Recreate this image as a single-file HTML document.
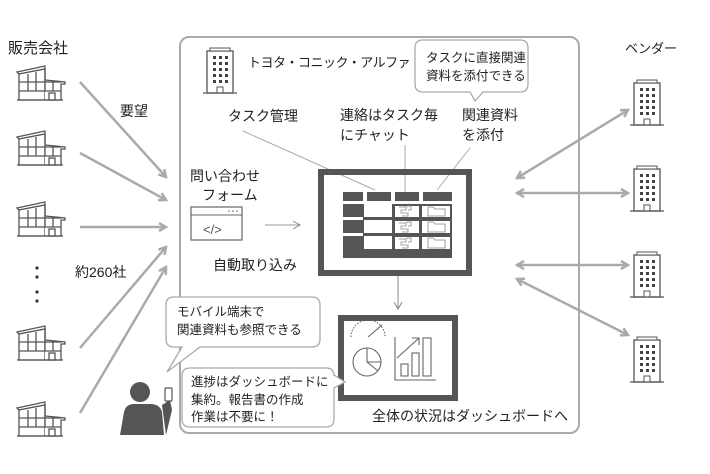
<!DOCTYPE html>
<html><head><meta charset="utf-8"><style>
body{margin:0;background:#fff}
svg{display:block;font-family:"Liberation Sans","Noto Sans CJK JP",sans-serif}
text{fill:#222}
</style></head><body>
<svg width="710" height="474" viewBox="0 0 710 474">
<defs>
<marker id="ah" markerWidth="10" markerHeight="10" refX="8" refY="5" orient="auto" markerUnits="userSpaceOnUse"><path d="M1,1 L8,5 L1,9" fill="none" stroke="#aaa" stroke-width="2.5"/></marker>
<marker id="ahs" markerWidth="10" markerHeight="10" refX="8" refY="5" orient="auto-start-reverse" markerUnits="userSpaceOnUse"><path d="M1,1 L8,5 L1,9" fill="none" stroke="#aaa" stroke-width="2.5"/></marker>
<marker id="at" markerWidth="10" markerHeight="10" refX="8" refY="5" orient="auto" markerUnits="userSpaceOnUse"><path d="M1,1 L8,5 L1,9" fill="none" stroke="#888" stroke-width="1"/></marker>
<g id="fac" fill="#fff" stroke="#555" stroke-width="1.3">
<path d="M0,10 L28,4 L28,7 L2,12 Z"/><path d="M2,12 L28,7 L28,38 L2,38 Z"/>
<path d="M28,18 L48,20 L48,22 L44,22 L44,38 L28,38"/>
<path d="M2,20 H44 M2,29 H44 M11,12 V29 M19,10 V29 M28,7 V29 M36,20 V29"/>
<rect x="32" y="31" width="6" height="7"/><path d="M0,38 H46"/>
</g>
<g id="bld">
<rect x="2" y="3" width="26" height="42" fill="#fff" stroke="#555" stroke-width="1.3"/>
<rect x="5" y="0" width="20" height="3" fill="#fff" stroke="#555" stroke-width="1"/>
<g fill="#444"><rect x="8" y="8" width="3" height="3"/><rect x="14" y="8" width="3" height="3"/><rect x="20" y="8" width="3" height="3"/>
<rect x="8" y="14" width="3" height="3"/><rect x="14" y="14" width="3" height="3"/><rect x="20" y="14" width="3" height="3"/>
<rect x="8" y="20" width="3" height="3"/><rect x="14" y="20" width="3" height="3"/><rect x="20" y="20" width="3" height="3"/>
<rect x="8" y="26" width="3" height="3"/><rect x="14" y="26" width="3" height="3"/><rect x="20" y="26" width="3" height="3"/>
<rect x="8" y="32" width="3" height="3"/><rect x="14" y="32" width="3" height="3"/><rect x="20" y="32" width="3" height="3"/></g>
<rect x="12" y="39" width="6" height="6" fill="#fff" stroke="#555"/>
<path d="M-2,45 H32" stroke="#555" stroke-width="1.3"/>
</g>
</defs>

<rect x="180" y="37" width="399" height="396" rx="9" fill="none" stroke="#aaa" stroke-width="2"/>

<text x="8" y="53" font-size="15">販売会社</text>
<use href="#fac" x="17" y="62"/>
<use href="#fac" x="17" y="127"/>
<use href="#fac" x="17" y="198"/>
<use href="#fac" x="17" y="322"/>
<use href="#fac" x="17" y="398"/>
<g fill="#333"><circle cx="37" cy="268" r="1.6"/><circle cx="37" cy="277" r="1.6"/><circle cx="37" cy="292" r="1.6"/><circle cx="37" cy="301" r="1.6"/></g>
<text x="120" y="116" font-size="14">要望</text>
<text x="75" y="277" font-size="14">約260社</text>

<g stroke="#aaa" stroke-width="2.5" fill="none" marker-end="url(#ah)">
<line x1="80" y1="82" x2="166" y2="177"/>
<line x1="80" y1="153" x2="166" y2="200"/>
<line x1="80" y1="227" x2="166" y2="227"/>
<line x1="80" y1="348" x2="166" y2="247"/>
<line x1="80" y1="413" x2="166" y2="267"/>
</g>

<use href="#bld" x="205" y="48"/>
<text x="248" y="67" font-size="13" letter-spacing="-0.5">トヨタ・コニック・アルファ</text>
<text x="228" y="121" font-size="14">タスク管理</text>
<text x="340" y="120" font-size="14">連絡はタスク毎</text>
<text x="340" y="140" font-size="14">にチャット</text>
<text x="462" y="120" font-size="14">関連資料</text>
<text x="462" y="140" font-size="14">を添付</text>

<path d="M423,40 H520 Q528,40 528,48 V84 Q528,92 520,92 H483 L475,101 L470,92 H423 Q415,92 415,84 V48 Q415,40 423,40 Z" fill="#fff" stroke="#aaa" stroke-width="1.3"/>
<text x="426" y="62" font-size="12.5">タスクに直接関連</text>
<text x="426" y="80" font-size="12.5">資料を添付できる</text>

<g stroke="#aaa" stroke-width="1" fill="none">
<line x1="243" y1="131" x2="375" y2="190"/>
<line x1="405" y1="145" x2="405" y2="192"/>
<line x1="470" y1="148" x2="437" y2="190"/>
</g>

<rect x="321" y="172" width="148" height="101" fill="none" stroke="#555" stroke-width="6"/>
<g fill="#555">
<rect x="343" y="192" width="20" height="9"/><rect x="367" y="192" width="24" height="9"/><rect x="395" y="192" width="24" height="9"/><rect x="423" y="192" width="29" height="9"/>
<rect x="343" y="204" width="109" height="54"/>
</g>
<g fill="#fff">
<rect x="343" y="217" width="20" height="3"/><rect x="343" y="233" width="20" height="3"/>
<rect x="364" y="204" width="28" height="13"/><rect x="364" y="220" width="28" height="13"/><rect x="364" y="236" width="28" height="13"/>
<rect x="395" y="206" width="24" height="11"/><rect x="395" y="221" width="24" height="12"/><rect x="395" y="237" width="24" height="12"/>
<rect x="422" y="206" width="28" height="11"/><rect x="422" y="221" width="28" height="12"/><rect x="422" y="237" width="28" height="12"/></g>
<g fill="none" stroke="#888" stroke-width="0.8">
<path d="M399,207 h7 v3 h-5 v3 h7 v3 h-6 M407,207 v-1 h4 v4 h-3"/><path d="M399,223 h7 v3 h-5 v3 h7 v3 h-6 M407,223 v-1 h4 v4 h-3"/><path d="M399,239 h7 v3 h-5 v3 h7 v3 h-6 M407,239 v-1 h4 v4 h-3"/>
<path d="M428,207 h5 l2,2 h10 v7 h-17 Z"/><path d="M428,222 h5 l2,2 h10 v8 h-17 Z"/><path d="M428,238 h5 l2,2 h10 v8 h-17 Z"/>
</g>

<text x="190" y="181" font-size="14">問い合わせ</text>
<text x="202" y="200" font-size="14">フォーム</text>
<rect x="191" y="207" width="51" height="33" fill="#fff" stroke="#666" stroke-width="1.2"/>
<line x1="191" y1="215" x2="242" y2="215" stroke="#666"/>
<g fill="#666"><circle cx="229" cy="211" r="0.8"/><circle cx="233" cy="211" r="0.8"/><circle cx="237" cy="211" r="0.8"/></g>
<text x="203" y="234" font-size="13" style="fill:#555">&lt;/&gt;</text>
<line x1="265" y1="225" x2="300" y2="225" stroke="#999" stroke-width="1" marker-end="url(#at)"/>
<text x="213" y="270" font-size="14">自動取り込み</text>

<line x1="398" y1="276" x2="398" y2="309" stroke="#888" stroke-width="1" marker-end="url(#at)"/>

<rect x="341" y="318" width="114" height="80" fill="none" stroke="#555" stroke-width="6"/>
<g fill="none" stroke="#666" stroke-width="1.1">
<path d="M351,337 A17,17 0 0 1 385,337" stroke-dasharray="1.5 1.5"/>
<line x1="368" y1="337" x2="382" y2="325"/>
<circle cx="367" cy="362" r="14"/><path d="M367,362 V348 M367,362 H381 M367,362 L378,371"/>
<path d="M395,337 V380 H436"/>
<rect x="401" y="364" width="7" height="12"/><rect x="412" y="353" width="7" height="23"/><rect x="423" y="338" width="8" height="38"/>
<path d="M397,358 L419,338 M412,338 h7 v7"/>
</g>
<text x="372" y="421" font-size="14">全体の状況はダッシュボードへ</text>

<path d="M174,297 H312 Q320,297 320,305 V339 Q320,347 312,347 H200 L167,372 L182,347 H174 Q166,347 166,339 V305 Q166,297 174,297 Z" fill="#fff" stroke="#aaa" stroke-width="1.3"/>
<text x="177" y="316" font-size="12.5">モバイル端末で</text>
<text x="177" y="334" font-size="12.5">関連資料も参照できる</text>

<path d="M190,368 H326 Q334,368 334,376 V375 L345,382 L334,388 V419 Q334,427 326,427 H190 Q182,427 182,419 V376 Q182,368 190,368 Z" fill="#fff" stroke="#aaa" stroke-width="1.3"/>
<text x="191" y="386" font-size="12.5">進捗はダッシュボードに</text>
<text x="191" y="404" font-size="12.5">集約。報告書の作成</text>
<text x="191" y="421" font-size="12.5">作業は不要に！</text>

<g fill="#555">
<circle cx="140" cy="392" r="10"/>
<path d="M120,435 L124,412 Q126,404 134,404 H150 Q160,404 162,412 L164,435 Z"/>
<path d="M162,405 L170,400 L172,410 L166,435 Z"/>
</g>
<rect x="165" y="388" width="7" height="13" rx="1" fill="#fff" stroke="#555" stroke-width="1.2"/>

<text x="625" y="53" font-size="13">ベンダー</text>
<use href="#bld" x="632" y="80"/>
<use href="#bld" x="632" y="166"/>
<use href="#bld" x="632" y="252"/>
<use href="#bld" x="632" y="337"/>
<g stroke="#aaa" stroke-width="2.5" fill="none" marker-start="url(#ahs)" marker-end="url(#ah)">
<line x1="517" y1="178" x2="628" y2="110"/>
<line x1="517" y1="193" x2="628" y2="193"/>
<line x1="517" y1="265" x2="628" y2="265"/>
<line x1="517" y1="279" x2="628" y2="335"/>
</g>
</svg>
</body></html>
